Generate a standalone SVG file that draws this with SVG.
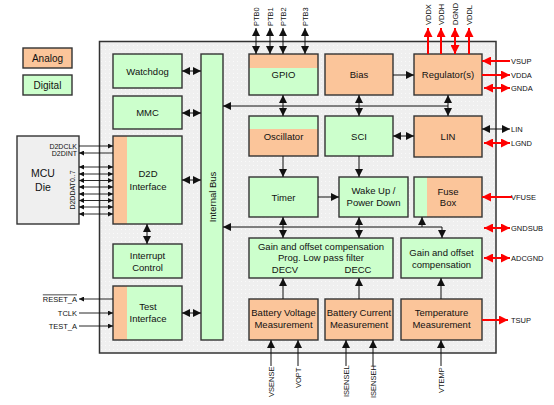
<svg xmlns="http://www.w3.org/2000/svg" width="554" height="405" viewBox="0 0 554 405">
<style>
text{font-family:"Liberation Sans",Arial,sans-serif;fill:#111}
.t{font-size:9.5px;text-anchor:middle}
.p{font-size:7.5px}
.an{fill:#fbc59a}
.dg{fill:#ccffcc}
.bx{fill:none;stroke:#333;stroke-width:1.4}
.k{stroke:#111;stroke-width:1;fill:none}
.r{stroke:#ff0000;stroke-width:2;fill:none}
.ks{stroke:#111;stroke-width:0.9;fill:none}
</style>
<defs>
<pattern id="dots" width="4" height="4" patternUnits="userSpaceOnUse">
<rect width="4" height="4" fill="#efefef"/>
<rect x="1" y="1" width="1" height="1" fill="#fafafa"/>
</pattern>
<marker id="ka" viewBox="0 0 8 8" refX="8" refY="4" markerWidth="8" markerHeight="8" markerUnits="userSpaceOnUse" orient="auto-start-reverse"><path d="M0,0 L8,4 L0,8 z" fill="#111"/></marker>
<marker id="ks" viewBox="0 0 6 6" refX="6" refY="3" markerWidth="5" markerHeight="5" markerUnits="userSpaceOnUse" orient="auto-start-reverse"><path d="M0,0 L6,3 L0,6 z" fill="#111"/></marker>
<marker id="ra" viewBox="0 0 10 10" refX="10" refY="5" markerWidth="9" markerHeight="9" markerUnits="userSpaceOnUse" orient="auto-start-reverse"><path d="M0,0 L10,5 L0,10 z" fill="#ff0000"/></marker>
</defs>
<rect width="554" height="405" fill="#fff"/>
<g id="legend">
<rect x="23" y="48" width="49" height="20" class="an"/><rect x="23" y="48" width="49" height="20" class="bx"/>
<text x="47.5" y="61.5" class="t" style="font-size:10px">Analog</text>
<rect x="23" y="75" width="49" height="20" class="dg"/><rect x="23" y="75" width="49" height="20" class="bx"/>
<text x="47.5" y="88.5" class="t" style="font-size:10px">Digital</text>
</g>
<g id="frame"><rect x="99.5" y="41.5" width="396.5" height="311.5" fill="url(#dots)" stroke="#333" stroke-width="1.5"/></g>
<g id="mcu"><rect x="17" y="136" width="62" height="88" fill="#efefef" stroke="#333" stroke-width="1.4"/>
<text x="43" y="177" class="t" style="font-size:10.5px">MCU</text><text x="43" y="191" class="t" style="font-size:10.5px">Die</text>
<text x="77" y="148.5" class="p" text-anchor="end" style="font-size:7px">D2DCLK</text>
<text x="77" y="155.5" class="p" text-anchor="end" style="font-size:7px">D2DINT</text>
<text x="75" y="190" class="p" text-anchor="middle" transform="rotate(-90 75 190)" style="font-size:7px">D2DDAT0..7</text>
</g>
<g id="watchdog"><rect x="113" y="54" width="69" height="34" class="dg"/><rect x="113" y="54" width="69" height="34" class="bx"/><text x="147.5" y="74.5" class="t">Watchdog</text></g>
<g id="mmc"><rect x="113" y="96" width="69" height="33" class="dg"/><rect x="113" y="96" width="69" height="33" class="bx"/><text x="147.5" y="116" class="t">MMC</text></g>
<g id="d2d"><rect x="113" y="136" width="69" height="88" class="dg"/><rect x="113" y="136" width="14" height="88" class="an"/><rect x="113" y="136" width="69" height="88" class="bx"/><text x="148" y="176.5" class="t">D2D</text><text x="148" y="190" class="t">Interface</text></g>
<g id="interrupt"><rect x="113" y="244" width="69" height="34" class="dg"/><rect x="113" y="244" width="69" height="34" class="bx"/><text x="147.5" y="259" class="t">Interrupt</text><text x="147.5" y="270.5" class="t">Control</text></g>
<g id="test"><rect x="113" y="286" width="69" height="54" class="dg"/><rect x="113" y="286" width="14" height="54" class="an"/><rect x="113" y="286" width="69" height="54" class="bx"/><text x="148" y="310" class="t">Test</text><text x="148" y="321.5" class="t">Interface</text></g>
<g id="bus"><rect x="201" y="54" width="22" height="286" class="dg"/><rect x="201" y="54" width="22" height="286" class="bx"/><text x="215.5" y="197" class="t" transform="rotate(-90 215.5 197)">Internal Bus</text></g>
<g id="gpio"><rect x="249" y="54" width="69" height="41" class="dg"/><rect x="249" y="54" width="69" height="14" class="an"/><rect x="249" y="54" width="69" height="41" class="bx"/><text x="283.5" y="77.5" class="t">GPIO</text></g>
<g id="bias"><rect x="325" y="54" width="68" height="41" class="an"/><rect x="325" y="54" width="68" height="41" class="bx"/><text x="359" y="77.5" class="t">Bias</text></g>
<g id="regulator"><rect x="414" y="54" width="68" height="41" class="an"/><rect x="414" y="54" width="68" height="41" class="bx"/><text x="448" y="77.5" class="t">Regulator(s)</text></g>
<g id="oscillator"><rect x="249" y="116" width="69" height="40" class="an"/><rect x="249" y="116" width="69" height="13" class="dg"/><rect x="249" y="116" width="69" height="40" class="bx"/><text x="283.5" y="139.5" class="t">Oscillator</text></g>
<g id="sci"><rect x="325" y="116" width="68" height="40" class="dg"/><rect x="325" y="116" width="68" height="40" class="bx"/><text x="359" y="139.5" class="t">SCI</text></g>
<g id="lin"><rect x="414" y="116" width="68" height="41" class="an"/><rect x="414" y="116" width="68" height="41" class="bx"/><text x="448" y="139.5" class="t">LIN</text></g>
<g id="timer"><rect x="249" y="177" width="69" height="40" class="dg"/><rect x="249" y="177" width="69" height="40" class="bx"/><text x="283.5" y="200.5" class="t">Timer</text></g>
<g id="wakeup"><rect x="339" y="177" width="69" height="40" class="dg"/><rect x="339" y="177" width="69" height="40" class="bx"/><text x="373.5" y="194" class="t">Wake Up /</text><text x="373.5" y="205.5" class="t">Power Down</text></g>
<g id="fuse"><rect x="414" y="177" width="68" height="40" class="an"/><rect x="414" y="177" width="13" height="40" class="dg"/><rect x="414" y="177" width="68" height="40" class="bx"/><text x="448" y="195" class="t">Fuse</text><text x="448" y="206" class="t">Box</text></g>
<g id="gainbig"><rect x="249" y="238" width="144" height="40" class="dg"/><rect x="249" y="238" width="144" height="40" class="bx"/><text x="321" y="250" class="t">Gain and offset compensation</text><text x="321" y="261" class="t">Prog. Low pass filter</text><text x="285" y="272.5" class="t">DECV</text><text x="358" y="272.5" class="t">DECC</text></g>
<g id="gainsmall"><rect x="401" y="238" width="81" height="40" class="dg"/><rect x="401" y="238" width="81" height="40" class="bx"/><text x="441.5" y="256" class="t">Gain and offset</text><text x="441.5" y="267.5" class="t">compensation</text></g>
<g id="battv"><rect x="249" y="299" width="69" height="41" class="an"/><rect x="249" y="299" width="69" height="41" class="bx"/><text x="283.5" y="316" class="t">Battery Voltage</text><text x="283.5" y="328" class="t">Measurement</text></g>
<g id="batti"><rect x="325" y="299" width="68" height="41" class="an"/><rect x="325" y="299" width="68" height="41" class="bx"/><text x="359" y="316" class="t">Battery Current</text><text x="359" y="328" class="t">Measurement</text></g>
<g id="temp"><rect x="401" y="299" width="81" height="41" class="an"/><rect x="401" y="299" width="81" height="41" class="bx"/><text x="441.5" y="316" class="t">Temperature</text><text x="441.5" y="328" class="t">Measurement</text></g>
<g id="connectors">
<line x1="182" y1="71" x2="201" y2="71" class="k" marker-start="url(#ka)" marker-end="url(#ka)"/>
<line x1="182" y1="113" x2="201" y2="113" class="k" marker-start="url(#ka)" marker-end="url(#ka)"/>
<line x1="182" y1="180" x2="201" y2="180" class="k" marker-start="url(#ka)" marker-end="url(#ka)"/>
<line x1="182" y1="313" x2="201" y2="313" class="k" marker-start="url(#ka)" marker-end="url(#ka)"/>
<line x1="147" y1="224" x2="147" y2="244" class="k" marker-start="url(#ka)" marker-end="url(#ka)"/>
<line x1="79" y1="146" x2="113" y2="146" class="ks" marker-end="url(#ks)"/>
<line x1="113" y1="153" x2="79" y2="153" class="ks" marker-end="url(#ks)"/>
<g class="ks">
<line x1="79" y1="167" x2="113" y2="167" marker-start="url(#ks)" marker-end="url(#ks)"/>
<line x1="79" y1="174" x2="113" y2="174" marker-start="url(#ks)" marker-end="url(#ks)"/>
<line x1="79" y1="180.5" x2="113" y2="180.5" marker-start="url(#ks)" marker-end="url(#ks)"/>
<line x1="79" y1="187" x2="113" y2="187" marker-start="url(#ks)" marker-end="url(#ks)"/>
<line x1="79" y1="194" x2="113" y2="194" marker-start="url(#ks)" marker-end="url(#ks)"/>
<line x1="79" y1="200.5" x2="113" y2="200.5" marker-start="url(#ks)" marker-end="url(#ks)"/>
<line x1="79" y1="207" x2="113" y2="207" marker-start="url(#ks)" marker-end="url(#ks)"/>
<line x1="79" y1="214" x2="113" y2="214" marker-start="url(#ks)" marker-end="url(#ks)"/>
</g>
<line x1="113" y1="299" x2="79" y2="299" class="ks" marker-end="url(#ks)"/>
<line x1="79" y1="313" x2="113" y2="313" class="ks" marker-end="url(#ks)"/>
<line x1="79" y1="326" x2="113" y2="326" class="ks" marker-end="url(#ks)"/>
<line x1="448" y1="106" x2="223" y2="106" class="k" marker-end="url(#ka)"/>
<line x1="283" y1="95" x2="283" y2="116" class="k" marker-start="url(#ka)" marker-end="url(#ka)"/>
<line x1="359" y1="95" x2="359" y2="116" class="k" marker-start="url(#ka)" marker-end="url(#ka)"/>
<line x1="448" y1="95" x2="448" y2="116" class="k" marker-start="url(#ka)" marker-end="url(#ka)"/>
<line x1="393" y1="75" x2="414" y2="75" class="k" marker-end="url(#ka)"/>
<line x1="393" y1="136" x2="414" y2="136" class="k" marker-start="url(#ka)" marker-end="url(#ka)"/>
<line x1="283" y1="156" x2="283" y2="177" class="k" marker-end="url(#ka)"/>
<line x1="359" y1="156" x2="359" y2="177" class="k" marker-end="url(#ka)"/>
<line x1="318" y1="197" x2="339" y2="197" class="k" marker-end="url(#ka)"/>
<polyline points="442,238 442,227 223,227" class="k" marker-start="url(#ka)" marker-end="url(#ka)"/>
<line x1="422" y1="227" x2="422" y2="217" class="k" marker-end="url(#ka)"/>
<line x1="283" y1="217" x2="283" y2="238" class="k" marker-start="url(#ka)" marker-end="url(#ka)"/>
<line x1="359" y1="217" x2="359" y2="238" class="k" marker-start="url(#ka)" marker-end="url(#ka)"/>
<line x1="283" y1="299" x2="283" y2="278" class="k" marker-end="url(#ka)"/>
<line x1="359" y1="299" x2="359" y2="278" class="k" marker-end="url(#ka)"/>
<line x1="441" y1="299" x2="441" y2="278" class="k" marker-end="url(#ka)"/>
<line x1="256" y1="54" x2="256" y2="28" class="k" marker-start="url(#ka)" marker-end="url(#ka)"/>
<line x1="270" y1="54" x2="270" y2="28" class="k" marker-start="url(#ka)" marker-end="url(#ka)"/>
<line x1="283" y1="54" x2="283" y2="28" class="k" marker-start="url(#ka)" marker-end="url(#ka)"/>
<line x1="305" y1="54" x2="305" y2="28" class="k" marker-start="url(#ka)" marker-end="url(#ka)"/>
<line x1="271" y1="366" x2="271" y2="340" class="k" marker-end="url(#ka)"/>
<line x1="298" y1="366" x2="298" y2="340" class="k" marker-end="url(#ka)"/>
<line x1="346" y1="366" x2="346" y2="340" class="k" marker-end="url(#ka)"/>
<line x1="373" y1="366" x2="373" y2="340" class="k" marker-end="url(#ka)"/>
<line x1="441" y1="366" x2="441" y2="340" class="k" marker-end="url(#ka)"/>
<line x1="482" y1="129" x2="510" y2="129" class="k" marker-start="url(#ka)" marker-end="url(#ka)"/>
<line x1="428" y1="54" x2="428" y2="28" class="r" marker-end="url(#ra)"/>
<line x1="441" y1="54" x2="441" y2="28" class="r" marker-end="url(#ra)"/>
<line x1="455" y1="54" x2="455" y2="28" class="r" marker-start="url(#ra)" marker-end="url(#ra)"/>
<line x1="469" y1="54" x2="469" y2="28" class="r" marker-end="url(#ra)"/>
<line x1="510" y1="61" x2="482" y2="61" class="r" marker-end="url(#ra)"/>
<line x1="482" y1="75" x2="510" y2="75" class="r" marker-end="url(#ra)"/>
<line x1="484" y1="88" x2="510" y2="88" class="r" marker-start="url(#ra)" marker-end="url(#ra)"/>
<line x1="484" y1="143" x2="510" y2="143" class="r" marker-start="url(#ra)" marker-end="url(#ra)"/>
<line x1="512" y1="197" x2="482" y2="197" class="r" marker-end="url(#ra)"/>
<line x1="484" y1="228" x2="510" y2="228" class="r" marker-start="url(#ra)" marker-end="url(#ra)"/>
<line x1="484" y1="258" x2="510" y2="258" class="r" marker-start="url(#ra)" marker-end="url(#ra)"/>
<line x1="482" y1="320" x2="508" y2="320" class="r" marker-end="url(#ra)"/>
</g>
<g id="pinlabels" class="p">
<text x="259" y="26" transform="rotate(-90 259 26)">PTB0</text>
<text x="273" y="26" transform="rotate(-90 273 26)">PTB1</text>
<text x="286" y="26" transform="rotate(-90 286 26)">PTB2</text>
<text x="308" y="26" transform="rotate(-90 308 26)">PTB3</text>
<text x="431" y="25" transform="rotate(-90 431 25)">VDDX</text>
<text x="444" y="25" transform="rotate(-90 444 25)">VDDH</text>
<text x="458" y="25" transform="rotate(-90 458 25)">DGND</text>
<text x="472" y="25" transform="rotate(-90 472 25)">VDDL</text>
<text x="274" y="397" transform="rotate(-90 274 397)">VSENSE</text>
<text x="301" y="388" transform="rotate(-90 301 388)">VOPT</text>
<text x="349" y="397" transform="rotate(-90 349 397)">ISENSEL</text>
<text x="376" y="398" transform="rotate(-90 376 398)">ISENSEH</text>
<text x="444" y="393" transform="rotate(-90 444 393)">VTEMP</text>
<text x="511" y="63.5">VSUP</text>
<text x="511" y="77.5">VDDA</text>
<text x="511" y="90.5">GNDA</text>
<text x="511" y="131.5">LIN</text>
<text x="511" y="145.5">LGND</text>
<text x="511" y="199.5">VFUSE</text>
<text x="511" y="230.5">GNDSUB</text>
<text x="511" y="260.5">ADCGND</text>
<text x="511" y="322.5">TSUP</text>
<text x="77" y="301.5" text-anchor="end" text-decoration="overline">RESET_A</text>
<text x="77" y="315.5" text-anchor="end">TCLK</text>
<text x="77" y="328.5" text-anchor="end">TEST_A</text>
</g>
</svg>
